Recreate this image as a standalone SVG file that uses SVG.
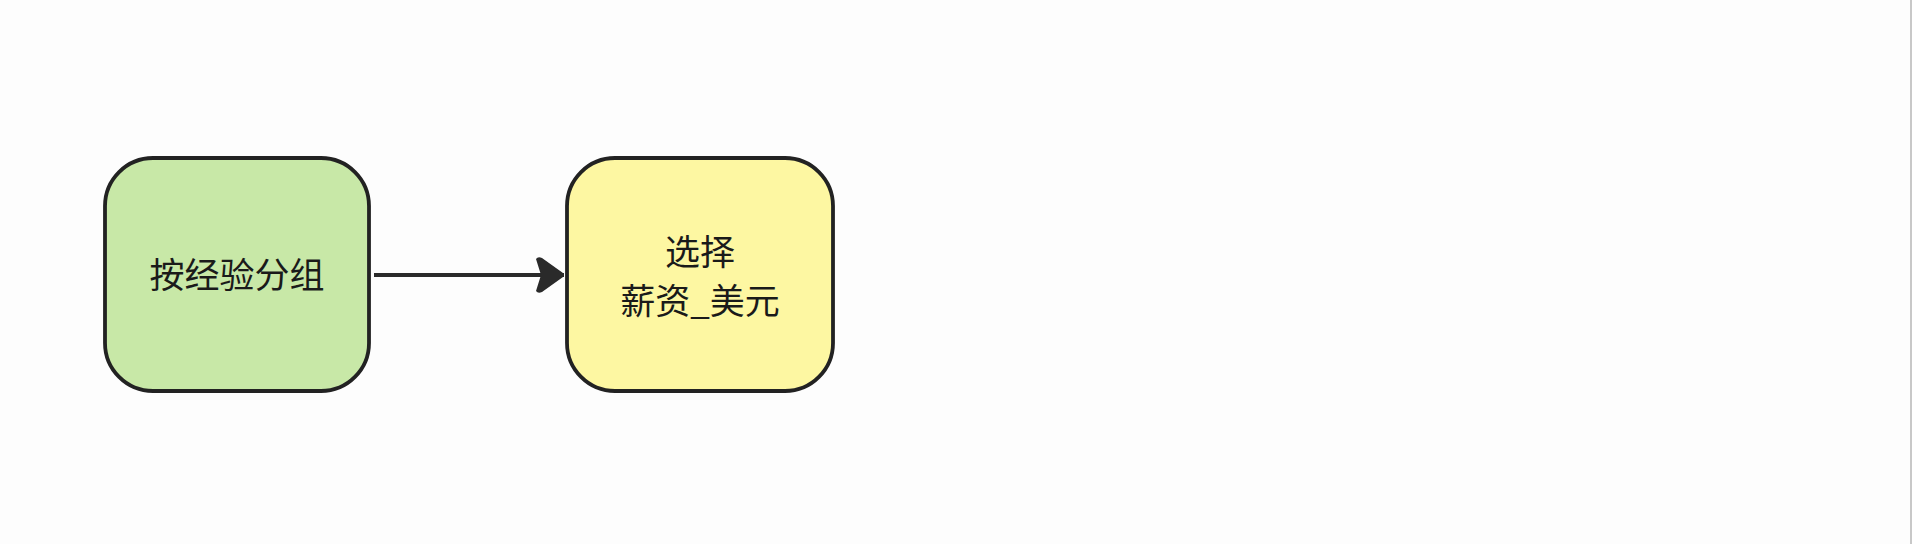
<svg xmlns="http://www.w3.org/2000/svg" width="1912" height="544" viewBox="0 0 1912 544">
<style>
.node{stroke:#222;stroke-width:3.8}
.lbl{font-family:"Noto Sans CJK SC","Noto Sans",sans-serif;font-size:35px;font-weight:400;fill:#1a1a1a;text-anchor:middle}
.edge{stroke:#2a2a2a;stroke-width:3.8;fill:none}
</style>
<defs>
<marker id="ah" markerUnits="userSpaceOnUse" markerWidth="34" markerHeight="40" refX="29" refY="18" orient="auto">
<path d="M1,2 Q3,-1 7,1 L28,16 Q30,18 28,20 L7,35 Q3,37 1,34 L6,18 Z" fill="#2a2a2a"/>
</marker>
</defs>
<rect width="1912" height="544" fill="#fdfdfd"/>
<line x1="1911" y1="0" x2="1911" y2="544" stroke="#c8c8c8" stroke-width="2"/>
<g id="connectors">
<path class="edge" d="M374,275 L564,275" marker-end="url(#ah)"/>
</g>
<g id="node-group">
<rect class="node" x="105" y="158" width="264" height="233" rx="48" fill="#c8e8a7"/>
<text class="lbl" x="237" y="288">按经验分组</text>
</g>
<g id="node-select">
<rect class="node" x="567" y="158" width="266" height="233" rx="48" fill="#fdf7a2"/>
<text class="lbl" x="700" y="265">选择</text>
<text class="lbl" x="700" y="314">薪资_美元</text>
</g>
</svg>
